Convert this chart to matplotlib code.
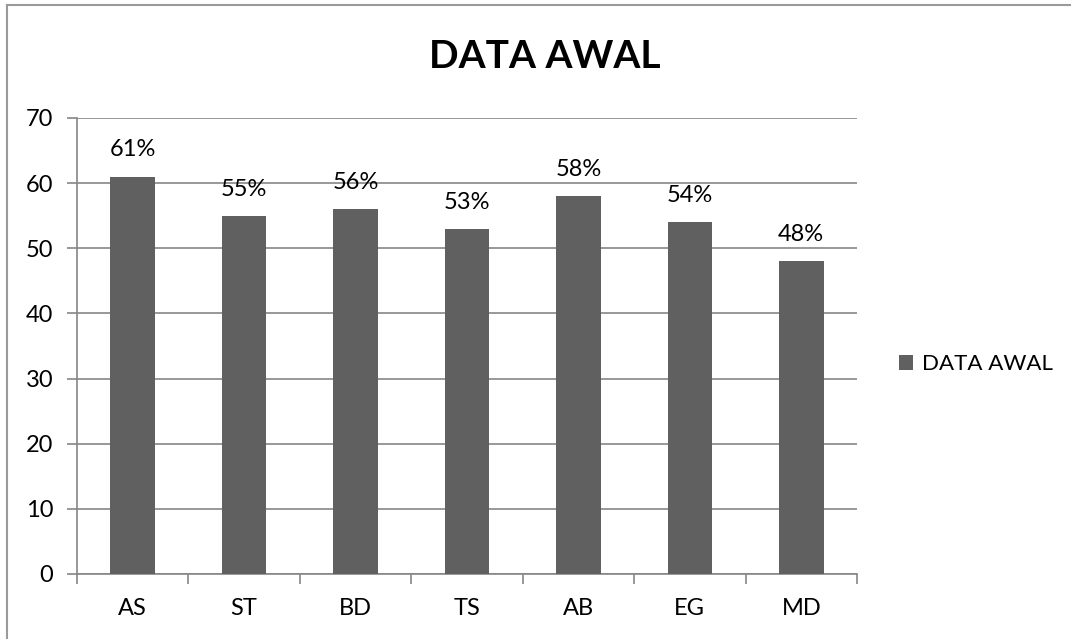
import matplotlib.pyplot as plt
from matplotlib.lines import Line2D

kategori = ["AS", "ST", "BD", "TS", "AB", "EG", "MD"]
nilai = [61, 55, 56, 53, 58, 54, 48]
label_persen = ["61%", "55%", "56%", "53%", "58%", "54%", "48%"]

plt.rcParams['font.family'] = ['Lato', 'DejaVu Sans']

fig = plt.figure(figsize=(10.71, 6.39), dpi=100)
W, H = 1071, 639
ax = fig.add_axes([77 / W, 1 - 574 / H, (857 - 77) / W, (574 - 118) / H])

abu = "#868686"
x = range(len(kategori))
bars = ax.bar(x, nilai, width=0.4, color="#606060", zorder=3, label="DATA AWAL")

# label persen di atas batang
for b, t in zip(bars, label_persen):
    ax.annotate(t, (b.get_x() + b.get_width() / 2, b.get_height()),
                xytext=(0, 14.5), textcoords="offset points",
                ha="center", va="baseline", fontsize=17, color="black", zorder=4)

ax.set_xlim(-0.5, len(kategori) - 0.5)
ax.set_ylim(0, 70)
ax.set_yticks(range(0, 71, 10))
ax.set_xticks(list(x))
ax.set_xticklabels(kategori)
ax.set_xticks([i - 0.5 for i in range(len(kategori) + 1)], minor=True)
ax.tick_params(axis="x", which="major", length=0, pad=17, labelsize=17)
ax.tick_params(axis="x", which="minor", length=7, width=1.2, color=abu, direction="out")
ax.tick_params(axis="y", length=7, width=1.2, color=abu, direction="out", pad=10, labelsize=17)
ax.grid(axis="y", color=abu, linewidth=1.2, zorder=0)
for s in ["top", "right"]:
    ax.spines[s].set_visible(False)
for s in ["left", "bottom"]:
    ax.spines[s].set_color(abu)
    ax.spines[s].set_linewidth(1.2)

fig.text(545 / W, 1 - 56 / H, "DATA AWAL", ha="center", va="center",
         fontsize=28, fontweight="bold")

ax.legend(loc="center left", bbox_to_anchor=(899 / W, 1 - 364 / H),
          bbox_transform=fig.transFigure, frameon=False, fontsize=16,
          borderpad=0, borderaxespad=0,
          handlelength=0.65, handleheight=0.65, handletextpad=0.4)

# bingkai grafik
fig.add_artist(Line2D([7 / W, 1], [1 - 5 / H, 1 - 5 / H], color="#9a9a9a", linewidth=1.5))
fig.add_artist(Line2D([7 / W, 7 / W], [0, 1 - 5 / H], color="#9a9a9a", linewidth=1.5))

fig.savefig("out.png", dpi=100)
